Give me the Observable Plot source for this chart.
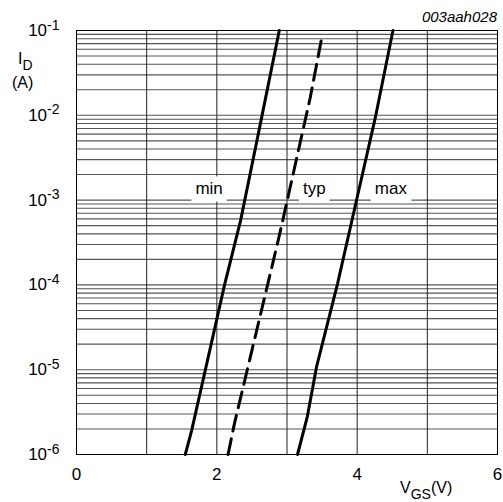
<!DOCTYPE html>
<html><head><meta charset="utf-8">
<script src="https://cdn.jsdelivr.net/npm/d3@7"></script>
<script src="https://cdn.jsdelivr.net/npm/@observablehq/plot@0.6"></script>
<style>body{margin:0;background:#fff}</style>
</head><body><div id="chart"></div>
<script>
// Curves: gate-source voltage (V) vs drain current (A)
const minV = [1.55, 1.64, 2.11, 2.34, 2.61, 2.89];
const minI = [1e-6, 1.9e-6, 1e-4, 5.8e-4, 7.2e-3, 1e-1];
const typV = [2.16, 2.25, 2.88, 2.95, 3.33, 3.49];
const typI = [1e-6, 2.3e-6, 3.5e-4, 6.3e-4, 1.6e-2, 7.8e-2];
const maxV = [3.15, 3.29, 3.42, 3.72, 3.99, 4.26, 4.51];
const maxI = [1e-6, 2.8e-6, 1.07e-5, 1.03e-4, 9.9e-4, 9.5e-3, 1e-1];

const labelNames = ["min", "typ", "max"];
const labelV = [1.89, 3.39, 4.48];
const labelI = [1.37e-3, 1.37e-3, 1.37e-3];

const xTicks = [0, 2, 4, 6];
const xGrid = [0, 1, 2, 3, 4, 5, 6];
const yTicks = [1e-6, 1e-5, 1e-4, 1e-3, 1e-2, 1e-1];
const yGrid = [];
for (let e = -6; e <= -2; e++) for (let k = 1; k <= 9; k++) yGrid.push(k * Math.pow(10, e));
yGrid.push(1e-1);

const toRows = (V, I) => V.map((v, i) => ({v, i: I[i]}));
const minRows = toRows(minV, minI), typRows = toRows(typV, typI), maxRows = toRows(maxV, maxI);
const labels = labelNames.map((n, k) => ({n, v: labelV[k], i: labelI[k]}));

const font = "'Liberation Sans', Arial, Helvetica, sans-serif";
const svg = Plot.plot({
  width: 503, height: 502,
  marginLeft: 76, marginRight: 6, marginTop: 30, marginBottom: 48,
  style: {fontFamily: font, fontSize: "16px", background: "white", color: "black", overflow: "visible"},
  x: {domain: [0, 6]},
  y: {type: "log", domain: [1e-6, 1e-1]},
  marks: [
    Plot.ruleY(yGrid, {stroke: "#555", strokeWidth: 1.1}),
    Plot.ruleX(xGrid, {stroke: "#222", strokeWidth: 1}),
    Plot.frame({stroke: "black", strokeWidth: 1}),
    Plot.line(minRows, {x: "v", y: "i", stroke: "black", strokeWidth: 3}),
    Plot.line(maxRows, {x: "v", y: "i", stroke: "black", strokeWidth: 3}),
    Plot.line(typRows, {x: "v", y: "i", stroke: "black", strokeWidth: 3, strokeDasharray: "16,8"}),
    Plot.text(labels, {x: "v", y: "i", text: "n", fontSize: 17, fill: "black"}),
    Plot.axisX({ticks: xTicks, tickSize: 0, tickPadding: 13, label: null, fontSize: 17,
      tickFormat: d3.format("d")}),
    Plot.axisY({ticks: yTicks, tickSize: 0, tickPadding: 17, label: null, fontSize: 17,
      tickFormat: d => String(Math.round(Math.log10(d)))})
  ]
});
document.getElementById("chart").appendChild(svg);
const s = d3.select(svg);

// Superscript exponents on y tick labels
s.selectAll('g[aria-label="y-axis tick label"] text').each(function() {
  const t = d3.select(this);
  const exp = t.text();
  t.text("");
  t.append("tspan").text("10");
  t.append("tspan").attr("dy", "-0.45em").attr("font-size", "14px").text(exp);
});

// White boxes behind curve labels (same transform as each label text)
const labelTexts = [];
s.selectAll("text").each(function() {
  if (labelNames.includes(this.textContent) && this.closest('g[aria-label="text"]')) labelTexts.push(this);
});
labelTexts.forEach(el => {
  const b = el.getBBox();
  const cy = b.y + b.height / 2;
  const r = d3.select(el.parentNode).insert("rect", () => el)
    .attr("x", b.x - 4).attr("y", cy - 12)
    .attr("width", b.width + 8).attr("height", 25)
    .attr("fill", "white");
  const tr = el.getAttribute("transform");
  if (tr) r.attr("transform", tr);
});

// Axis titles and code
const ann = s.append("g").attr("font-family", font).attr("fill", "black").attr("text-anchor", "start");
const yl = ann.append("text").attr("x", 18).attr("y", 64).attr("font-size", "16px");
yl.append("tspan").text("I");
yl.append("tspan").attr("dy", 6).attr("font-size", "14px").text("D");
ann.append("text").attr("x", 12).attr("y", 88).attr("font-size", "16px").text("(A)");
const xl = ann.append("text").attr("x", 400).attr("y", 493).attr("font-size", "16px");
xl.append("tspan").text("V");
xl.append("tspan").attr("dy", 6).attr("font-size", "14px").text("GS");
xl.append("tspan").attr("dy", -6).text("(V)");
ann.append("text").attr("x", 497).attr("y", 22).attr("text-anchor", "end")
  .attr("font-size", "15px").attr("font-style", "italic").text("003aah028");
</script>
</body></html>
